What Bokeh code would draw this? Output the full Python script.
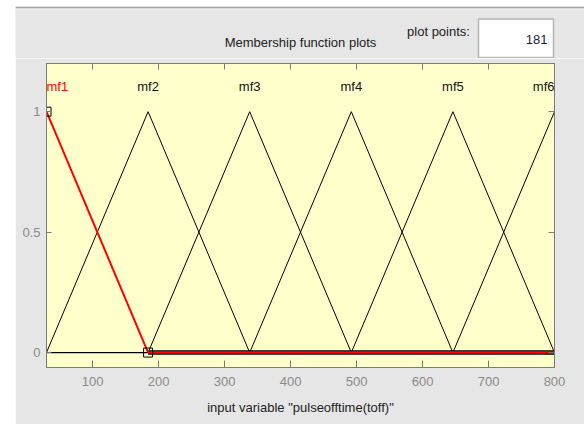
from bokeh.plotting import figure
from bokeh.layouts import column
from bokeh.models import Range1d, LinearAxis, Label, FixedTicker
from bokeh.embed import file_html
from bokeh.resources import INLINE

# ---- data ----
mf_names = ["mf1", "mf2", "mf3", "mf4", "mf5", "mf6"]
mf_a = [-124, 30, 184, 338, 492, 646]
mf_b = [30, 184, 338, 492, 646, 800]
mf_c = [184, 338, 492, 646, 800, 954]
x_min, x_max = 30, 800
x_ticks = [100, 200, 300, 400, 500, 600, 700, 800]
y_ticks = [0, 0.5, 1]
y_tick_labels = {0: "0", 0.5: "0.5", 1: "1"}
plot_points = "181"
title_text = "Membership function plots"
x_label = 'input variable "pulseofftime(toff)"'

FONT = "Liberation Sans"
GRAY_BG = "#e6e6e6"
AX = "#7a7a7a"
W = 569
TOP = 6
HEAD_H = 52

# ---- header panel (page-pixel coordinates) ----
h = figure(width=W, height=HEAD_H, output_backend="svg", toolbar_location=None,
           x_range=Range1d(15, 15 + W), y_range=Range1d(TOP + HEAD_H, TOP),
           min_border=0)
h.frame_align = False
h.axis.visible = False
h.grid.visible = False
h.outline_line_color = None
h.background_fill_color = GRAY_BG
h.border_fill_color = GRAY_BG
h.quad(left=[15], right=[15 + W], top=[6], bottom=[8], fill_color="#a4a4a4",
       line_color=None)
h.quad(left=[15], right=[15 + W], top=[8], bottom=[9.5], fill_color="#efefef",
       line_color=None)
h.quad(left=[478], right=[553], top=[18.5], bottom=[57], fill_color="white",
       line_color="#b4b4b4", line_width=1.5)
h.text(x=[300], y=[42], text=[title_text], text_align="center", text_baseline="middle",
       text_font={"value": FONT}, text_font_size="13px", text_color="#222222")
h.text(x=[438], y=[31], text=["plot points:"], text_align="center", text_baseline="middle",
       text_font={"value": FONT}, text_font_size="13px", text_color="#222222")
h.text(x=[547], y=[39], text=[plot_points], text_align="right", text_baseline="middle",
       text_font={"value": FONT}, text_font_size="13px", text_color="#1a1a40")

# ---- main plot ----
p = figure(width=W, height=424 - TOP - HEAD_H, output_backend="svg", toolbar_location=None,
           x_range=Range1d(x_min, x_max), y_range=Range1d(-0.062, 1.2),
           min_border_left=31, min_border_right=W - 539, min_border_top=5,
           min_border_bottom=57)
p.frame_align = False
p.background_fill_color = "#ffffcc"
p.border_fill_color = GRAY_BG
p.outline_line_color = AX
p.xgrid.visible = False
p.ygrid.visible = False


def style_axis(ax, show_labels=True):
    ax.axis_line_color = AX
    ax.major_tick_line_color = AX
    ax.minor_tick_line_color = None
    ax.major_tick_out = 0
    ax.major_tick_in = 7
    ax.major_label_text_color = "#8a8a8a"
    ax.major_label_text_font = FONT
    if show_labels:
        ax.major_label_text_font_size = "13px"
    else:
        ax.major_label_text_font_size = "0px"
        ax.major_label_text_alpha = 0
        ax.major_label_standoff = 0


xa = p.xaxis[0]
xa.ticker = FixedTicker(ticks=x_ticks)
style_axis(xa)
xa.major_label_standoff = 9
xa.axis_label = x_label
xa.axis_label_text_font = FONT
xa.axis_label_text_font_size = "13px"
xa.axis_label_text_font_style = "normal"
xa.axis_label_text_color = "#222222"
xa.axis_label_standoff = 11

ya = p.yaxis[0]
ya.ticker = FixedTicker(ticks=y_ticks)
ya.major_label_overrides = y_tick_labels
style_axis(ya)
ya.major_tick_in = 5
ya.major_label_standoff = 6

top = LinearAxis(ticker=FixedTicker(ticks=x_ticks))
style_axis(top, False)
top.major_tick_in = 6
p.add_layout(top, "above")

right = LinearAxis(ticker=FixedTicker(ticks=y_ticks))
style_axis(right, False)
right.major_tick_in = 6
p.add_layout(right, "right")

# ---- membership functions ----
for i in range(1, len(mf_names)):
    xs = [x_min, mf_a[i], mf_b[i], mf_c[i], x_max]
    ys = [0, 0, 1, 0, 0]
    p.line(xs, ys, line_color="black", line_width=1)

# selected mf1 (red)
p.line([mf_c[0], x_max], [0, 0], line_color="black", line_width=4.5)
p.line([mf_c[0], x_max], [0, 0], line_color="red", line_width=2.5)
p.line([mf_b[0], mf_c[0]], [1, 0], line_color="red", line_width=2)
p.scatter([mf_b[0], mf_c[0]], [1, 0], marker="square", size=9,
          fill_color=None, line_color="black", line_width=1)

for i, name in enumerate(mf_names):
    align = "center"
    if i == 0:
        align = "left"
    elif i == len(mf_names) - 1:
        align = "right"
    p.add_layout(Label(x=mf_b[i], y=1.104, text=name, text_align=align,
                       text_baseline="middle", text_font=FONT, text_font_size="13px",
                       text_color="red" if i == 0 else "#111111"))

layout = column(h, p, spacing=0)
layout.margin = (TOP, 0, 0, 15)
open("out.html", "w").write(file_html(layout, INLINE))
